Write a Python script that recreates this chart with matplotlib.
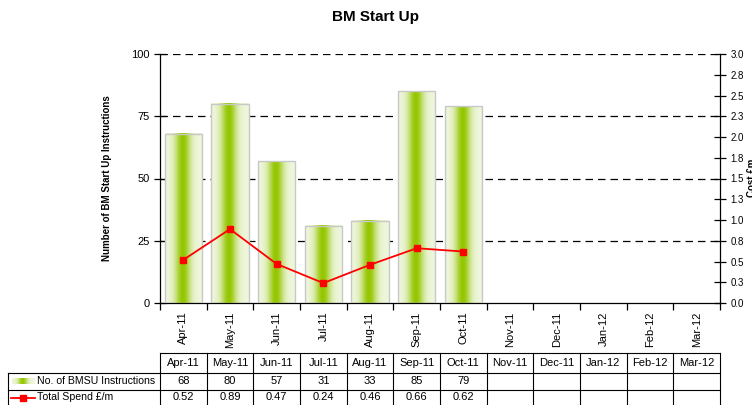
import numpy as np
import matplotlib
matplotlib.use("Agg")
import matplotlib.pyplot as plt
from matplotlib.lines import Line2D
from decimal import Decimal, ROUND_HALF_UP

plt.rcParams['font.family'] = ['Liberation Sans', 'DejaVu Sans']

months = ["Apr-11", "May-11", "Jun-11", "Jul-11", "Aug-11", "Sep-11", "Oct-11",
          "Nov-11", "Dec-11", "Jan-12", "Feb-12", "Mar-12"]
instructions = [68, 80, 57, 31, 33, 85, 79]
spend = [0.52, 0.89, 0.47, 0.24, 0.46, 0.66, 0.62]
left_ticks = [0, 25, 50, 75, 100]
right_ticks = [0, 0.25, 0.5, 0.75, 1.0, 1.25, 1.5, 1.75, 2.0, 2.25, 2.5, 2.75, 3.0]
bar_label = "No. of BMSU Instructions"
line_label = "Total Spend £/m"

W, H = 752, 405
fig = plt.figure(figsize=(W / 100, H / 100), dpi=100)
L, R, B, T = 160, 720, 303, 54
ax = fig.add_axes([L / W, 1 - B / H, (R - L) / W, (B - T) / H])

n = len(months)
x = np.arange(n)

# gradient
light = np.array([238, 246, 220]) / 255
green = np.array([148, 198, 0]) / 255
u = np.linspace(0, 1, 200)
w = np.exp(-((u - 0.47) / 0.2) ** 2)
grad = light[None, :] * (1 - w[:, None]) + green[None, :] * w[:, None]
grad_img = grad[None, :, :]

bars = ax.bar(x[:len(instructions)], instructions, width=0.8, facecolor='none',
              edgecolor='#c8c8c8', linewidth=1.0, zorder=3)
for p in bars.patches:
    x0, y0 = p.get_x(), p.get_y()
    ax.imshow(grad_img, extent=[x0, x0 + p.get_width(), y0, y0 + p.get_height()],
              aspect='auto', zorder=2, interpolation='bilinear')
ax.set_xlim(-0.5, n - 0.5)
ax.set_ylim(0, 100)

for v in left_ticks[1:]:
    ax.axhline(v, color='black', linestyle=(0, (6, 4)), linewidth=0.9, zorder=1)

ax.set_yticks(left_ticks)
ax.tick_params(axis='y', direction='inout', length=8, labelsize=8, width=0.9)
ax.set_xticks(np.arange(n + 1) - 0.5, minor=False)
ax.set_xticklabels([])
ax.set_xticks(x, minor=True)
ax.set_xticklabels(months, minor=True, rotation=90, fontsize=8)
ax.tick_params(axis='x', which='major', direction='out', length=5, width=0.9)
ax.tick_params(axis='x', which='minor', length=0, pad=6)
ax.spines['top'].set_visible(False)
ax.spines['right'].set_visible(False)
ax.spines['left'].set_linewidth(0.9)
ax.spines['bottom'].set_linewidth(0.9)
ax.set_ylabel("Number of BM Start Up Instructions", fontsize=7, fontweight='bold', labelpad=14)

ax2 = ax.twinx()
ax2.set_ylim(0, 3.0)
ax2.set_yticks(right_ticks)
ax2.set_yticklabels([str(Decimal(str(v)).quantize(Decimal("0.1"), rounding=ROUND_HALF_UP))
                     for v in right_ticks])
ax2.tick_params(axis='y', direction='inout', length=8, labelsize=7, width=0.9)
for s in ['top', 'left', 'bottom']:
    ax2.spines[s].set_visible(False)
ax2.spines['right'].set_linewidth(0.9)
ax2.plot(x[:len(spend)], spend, color='#ff0000', linewidth=1.3, marker='s',
         markersize=4, zorder=5)

fig.suptitle("BM Start Up", fontsize=11, fontweight='bold', y=1 - 17 / H, va='center')

def fx(px):
    return px / W

def fy(py):
    return 1 - py / H

# right axis title (at the figure edge, as in the reference)
fig.text(fx(747), fy(178), "Cost £m", rotation=90, ha='left', va='center',
         fontsize=7, fontweight='bold')

# data table
col_w = (R - L) / n
rows_y = [353, 373, 390, 406]
lw = 0.8
fig.add_artist(Line2D([fx(L), fx(R)], [fy(rows_y[0])] * 2, color='black', lw=lw))
for yy in rows_y[1:]:
    fig.add_artist(Line2D([fx(8), fx(R)], [fy(yy)] * 2, color='black', lw=lw))
for i in range(n + 1):
    xx = L + i * col_w
    fig.add_artist(Line2D([fx(xx)] * 2, [fy(rows_y[0]), fy(rows_y[-1])], color='black', lw=lw))
fig.add_artist(Line2D([fx(8)] * 2, [fy(rows_y[1]), fy(rows_y[-1])], color='black', lw=lw))

for i, m in enumerate(months):
    cx = L + (i + 0.5) * col_w
    fig.text(fx(cx), fy((rows_y[0] + rows_y[1]) / 2), m, ha='center', va='center', fontsize=8)
for i, v in enumerate(instructions):
    cx = L + (i + 0.5) * col_w
    fig.text(fx(cx), fy((rows_y[1] + rows_y[2]) / 2), str(v), ha='center', va='center', fontsize=8)
for i, v in enumerate(spend):
    cx = L + (i + 0.5) * col_w
    fig.text(fx(cx), fy((rows_y[2] + rows_y[3]) / 2 - 0.5), f"{v:.2f}", ha='center', va='center', fontsize=8)

# legend keys
lax = fig.add_axes([fx(12), fy(384), fx(23), 6 / H])
lax.imshow(grad_img, aspect='auto', extent=[0, 1, 0, 1], interpolation='bilinear')
lax.set_axis_off()
fig.text(fx(37), fy((rows_y[1] + rows_y[2]) / 2), bar_label, ha='left', va='center', fontsize=7.6)
fig.add_artist(Line2D([fx(11), fx(35)], [fy(397.5)] * 2, color='#ff0000', lw=1.3))
fig.add_artist(Line2D([fx(23)], [fy(397.5)], color='#ff0000', marker='s', markersize=4))
fig.text(fx(37), fy((rows_y[2] + rows_y[3]) / 2 - 0.5), line_label, ha='left', va='center', fontsize=7.6)

fig.savefig("out.png", dpi=100)
